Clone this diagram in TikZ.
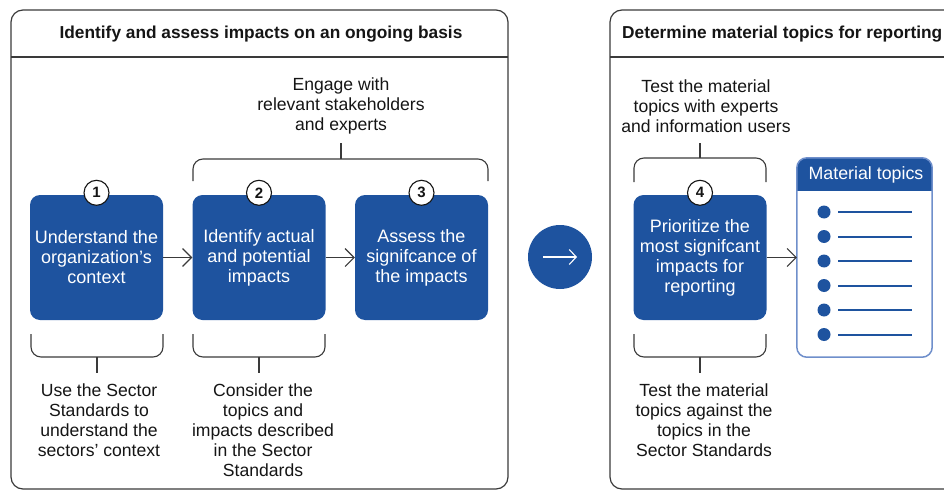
\documentclass[tikz,border=0pt]{standalone}
\usepackage{fontspec}
\setmainfont{Liberation Sans}
\usetikzlibrary{arrows.meta}
\definecolor{gblue}{HTML}{1E539F}
\definecolor{lblue}{HTML}{6F8FCB}
\definecolor{ink}{HTML}{151515}
\definecolor{edge}{HTML}{3A3A3A}
\tikzset{
  txt/.style={font=\fontsize{17.6}{20}\selectfont, text=ink, align=center, inner sep=0pt},
  ttl/.style={font=\bfseries\fontsize{17.3}{20}\selectfont, text=ink, inner sep=0pt},
  stepbox/.style={fill=gblue, rounded corners=10pt, minimum width=133pt, minimum height=125pt,
    text=white, align=center, font=\fontsize{18}{20}\selectfont, inner sep=0pt},
  numc/.style={circle, draw=ink, line width=1.1pt, fill=white, minimum size=25pt, inner sep=0pt,
    font=\bfseries\fontsize{15}{15}\selectfont, text=ink},
  panel/.style={draw=edge, line width=1.2pt, rounded corners=12pt},
  brk/.style={draw=edge, line width=1.1pt, rounded corners=10pt},
  conn/.style={draw=edge, line width=1.1pt, -{Straight Barb[length=9pt,width=18pt,line width=1.1pt]}},
}
\begin{document}
\begin{tikzpicture}[x=1pt,y=-1pt]
\useasboundingbox (0,0) rectangle (944,492);
\clip (0,0) rectangle (944,492);
% panels
\draw[panel] (11,489) rectangle (508,10);
\draw[edge, line width=1.2pt] (11,57) -- (508,57);
\draw[panel] (610,489) rectangle (956,10);
\draw[edge, line width=1.2pt] (610,57) -- (956,57);
\node[ttl] (t1) at (261,34) {Identify and assess impacts on an ongoing basis};
\node[ttl, anchor=west] (t2) at (622,34) {Determine material topics for reporting};
% step boxes
\node[stepbox] (b1) at (96.5,257.5) {Understand the\\organization’s\\context};
\node[stepbox] (b2) at (259,257.5) {Identify actual\\and potential\\impacts};
\node[stepbox] (b3) at (421.5,257.5) {Assess the\\signifcance of\\the impacts};
\node[stepbox] (b4) at (700,257.5) {Prioritize the\\most signifcant\\impacts for\\reporting};
\node[numc] (n1) at ([yshift=2pt]b1.north) {1};
\node[numc] (n2) at ([yshift=2pt]b2.north) {2};
\node[numc] (n3) at ([yshift=2pt]b3.north) {3};
\node[numc] (n4) at ([yshift=2pt]b4.north) {4};
\draw[conn] (b1.east) -- (b2.west);
\draw[conn] (b2.east) -- (b3.west);
% top bracket over 2-3
\draw[brk] (193,181) |- (341,159) -| (488,181);
\coordinate (tb1) at (341,159);
\node[txt] (e1) at (341,106) {Engage with\\relevant stakeholders\\and experts};
\draw[edge, line width=1.1pt] (tb1) -- (341,143);
% bottom brackets
\draw[brk] (31,334) |- (97,357) -| (163,334);
\coordinate (bb1) at (97,357);
\draw[edge, line width=1.1pt] (bb1) -- (97,373);
\node[txt] (u1) at (99,420) {Use the Sector\\Standards to\\understand the\\sectors’ context};
\draw[brk] (193,334) |- (259,357) -| (325,334);
\coordinate (bb2) at (259,357);
\draw[edge, line width=1.1pt] (bb2) -- (259,373);
\node[txt] (u2) at (263,430) {Consider the\\topics and\\impacts described\\in the Sector\\Standards};
% big arrow circle
\node[circle, fill=gblue, minimum size=64pt, inner sep=0pt] (go) at (560,257) {};
\draw[white, line width=1.1pt, -{Straight Barb[length=7pt,width=15pt,line width=1.1pt]}]
  ([xshift=-17pt]go.center) -- ([xshift=17pt]go.center);
% right column brackets
\draw[brk] (634,182) |- (700,158) -| (766,182);
\coordinate (tb4) at (700,158);
\draw[edge, line width=1.1pt] (tb4) -- (700,143);
\node[txt] (e4) at (706,106) {Test the material\\topics with experts\\and information users};
\draw[brk] (634,334) |- (700,357) -| (766,334);
\coordinate (bb4) at (700,357);
\draw[edge, line width=1.1pt] (bb4) -- (700,373);
\node[txt] (u4) at (704,420) {Test the material\\topics against the\\topics in the\\Sector Standards};
% material topics box
\node[minimum width=135pt, minimum height=199pt, inner sep=0pt] (mt) at (864.5,257.5) {};
\begin{scope}
\clip[rounded corners=10pt] (mt.south west) rectangle (mt.north east);
\fill[gblue] (mt.north west) rectangle (932,191);
\end{scope}
\draw[lblue, line width=1.5pt, rounded corners=10pt] (mt.south west) rectangle (mt.north east);
\node[font=\fontsize{17.8}{20}\selectfont, text=white, inner sep=0pt] (mth) at (866,175) {Material topics};
\draw[conn] (b4.east) -- (mt.west);
\foreach \yy in {212,236.5,261,285.5,310,334.5}{
  \fill[gblue] (824,\yy) circle (6.5pt);
  \draw[gblue, line width=2pt] (838,\yy) -- (912,\yy);
}
\end{tikzpicture}
\end{document}
